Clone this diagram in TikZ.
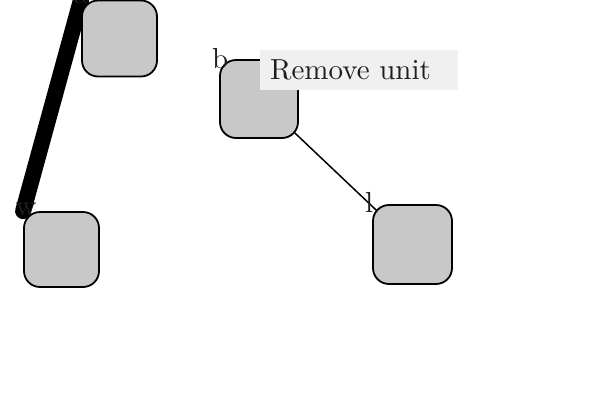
\documentclass[tikz,border=0pt]{standalone}
\usetikzlibrary{backgrounds}
\definecolor{boxgray}{HTML}{C8C8C8}
\definecolor{notegray}{HTML}{F0F0F0}
\definecolor{lblcol}{HTML}{1E1E1E}
\newcommand{\bigtxt}[1]{\scalebox{2.9}{#1}}
\tikzset{
  unitbox/.style={draw=black, fill=boxgray, line width=1.8pt, rounded corners=16pt, inner sep=0pt},
  lbl/.style={text=lblcol, inner sep=0pt, anchor=center},
  thickedge/.style={line width=16pt, line cap=round, draw=black},
  thinedge/.style={line width=1.5pt, draw=black},
  note/.style={fill=notegray, text=lblcol, inner ysep=0pt, inner xsep=10pt, text width=178pt, align=left, minimum height=40pt, anchor=north west}
}
\begin{document}
\begin{tikzpicture}[x=1pt,y=-1pt]
\useasboundingbox (0,0) rectangle (600,400);
\node[unitbox, minimum width=75pt, minimum height=76pt] (A) at (119.5,38.5) {};
\node[unitbox, minimum width=78pt, minimum height=78pt] (B) at (259,99) {};
\node[unitbox, minimum width=75pt, minimum height=75pt] (W) at (61.5,249.5) {};
\node[unitbox, minimum width=79pt, minimum height=79pt] (L) at (412.5,244.5) {};
\begin{scope}[on background layer]
\draw[thickedge] (A.north west) -- (W.north west);
\draw[thinedge] (B.center) -- (L.center);
\end{scope}
\node[lbl] (la) at ([yshift=2pt]A.north west) {\bigtxt{a}};
\node[lbl] (lb) at ([xshift=1pt,yshift=1pt]B.north west) {\bigtxt{b}};
\node[lbl] (lw) at ([xshift=3pt,yshift=2pt]W.north west) {\bigtxt{w}};
\node[lbl] (ll) at ([xshift=-3pt,yshift=2pt]L.north west) {\bigtxt{l}};
\node[note] (note) at (260,50) {\bigtxt{Remove unit}};
\end{tikzpicture}
\end{document}
